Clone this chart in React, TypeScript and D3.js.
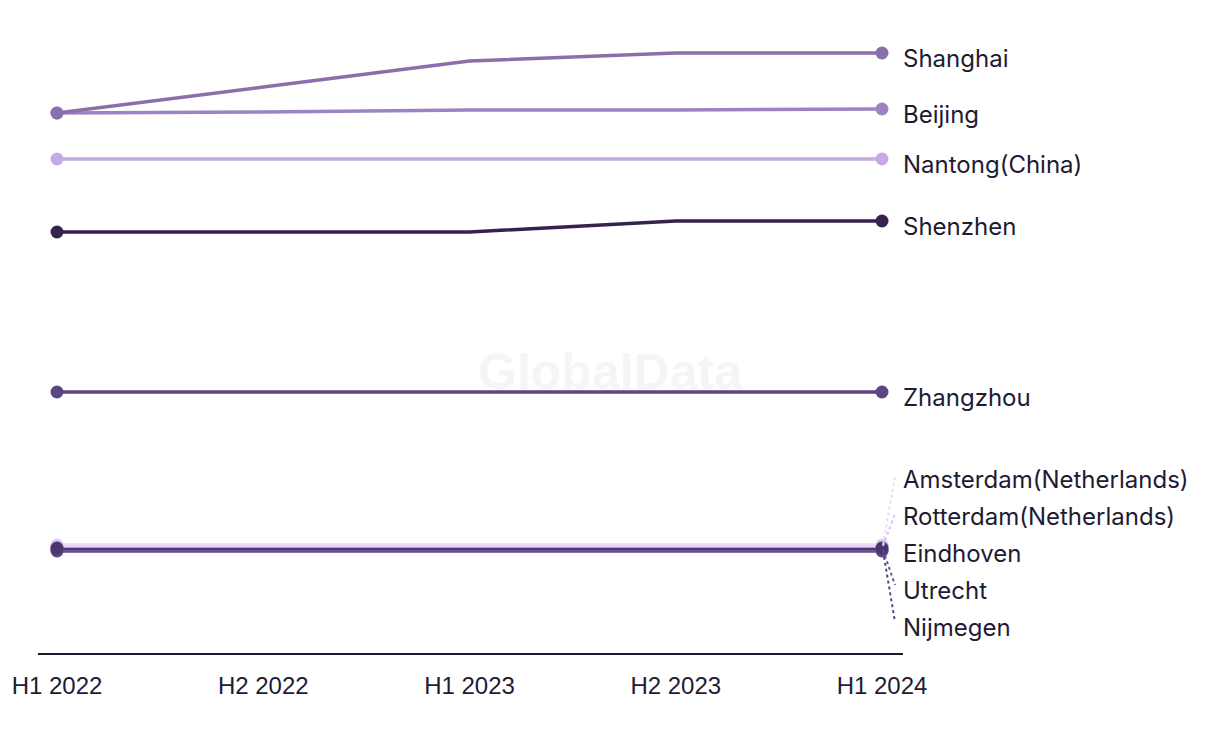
import React, { useEffect, useRef } from 'react';
import * as d3 from 'd3';

// periods on the x axis
const periods = ['H1 2022', 'H2 2022', 'H1 2023', 'H2 2023', 'H1 2024'];

// series values (arbitrary units)
const shanghai = [541, 567, 593, 601, 601];
const beijing = [541, 542, 544, 544, 545];
const nantong = [495, 495, 495, 495, 495];
const shenzhen = [422, 422, 422, 433, 433];
const zhangzhou = [262, 262, 262, 262, 262];
const amsterdam = [109, 109, 109, 109, 109];
const rotterdam = [108, 108, 108, 108, 108];
const eindhoven = [106, 106, 106, 106, 106];
const utrecht = [104, 104, 104, 104, 104];
const nijmegen = [103, 103, 103, 103, 103];

const cities = [
  'Shanghai', 'Beijing', 'Nantong(China)', 'Shenzhen', 'Zhangzhou',
  'Amsterdam(Netherlands)', 'Rotterdam(Netherlands)', 'Eindhoven', 'Utrecht', 'Nijmegen',
];
const seriesValues = [
  shanghai, beijing, nantong, shenzhen, zhangzhou,
  amsterdam, rotterdam, eindhoven, utrecht, nijmegen,
];
const colors = [
  '#8a6fab', '#9c83c2', '#c5aae8', '#35224f', '#5b4582',
  '#e9dafb', '#d9c3f4', '#4a356f', '#6c5594', '#5b4582',
];

export default function App() {
  const ref = useRef<SVGSVGElement>(null);

  useEffect(() => {
    const width = 1220;
    const height = 744;
    const svg = d3.select(ref.current);
    svg.selectAll('*').remove();

    const x = d3.scalePoint().domain(periods).range([57, 882]);
    const y = d3.scaleLinear().domain([0, 610]).range([654, 44]);

    // watermark
    svg.append('text')
      .attr('x', 610)
      .attr('y', 389)
      .attr('text-anchor', 'middle')
      .attr('font-family', 'Liberation Sans, Arial, sans-serif')
      .attr('font-weight', 'bold')
      .attr('font-size', 50)
      .attr('fill', '#f5f5f5')
      .text('GlobalData');

    // axis line
    svg.append('line')
      .attr('x1', 38).attr('x2', 903)
      .attr('y1', 654).attr('y2', 654)
      .attr('stroke', '#1c1a2e')
      .attr('stroke-width', 2);

    // tick labels
    svg.append('g')
      .selectAll('text')
      .data(periods)
      .enter()
      .append('text')
      .attr('x', d => x(d)!)
      .attr('y', 694)
      .attr('text-anchor', 'middle')
      .attr('font-family', 'Liberation Sans, Arial, sans-serif')
      .attr('font-size', 24)
      .attr('fill', '#1e1b33')
      .text(d => d);

    const series = cities.map((name, i) => ({
      name,
      color: colors[i],
      values: seriesValues[i],
    }));

    const line = d3.line<number>()
      .x((_, i) => x(periods[i])!)
      .y(d => y(d));

    // bottom cluster first, light ones after so they show as a thin stripe
    const order = [9, 8, 7, 6, 5, 4, 3, 2, 1, 0];
    const gLines = svg.append('g');
    order.forEach(i => {
      const s = series[i];
      gLines.append('path')
        .attr('d', line(s.values))
        .attr('fill', 'none')
        .attr('stroke', s.color)
        .attr('stroke-width', 3.5);
    });
    // dots: light ones underneath, dark ones on top
    const dotOrder = [5, 6, 8, 9, 7, 4, 3, 2, 1, 0];
    dotOrder.forEach(i => {
      const s = series[i];
      const first = s.values[0];
      const last = s.values[s.values.length - 1];
      [[periods[0], first], [periods[periods.length - 1], last]].forEach(([p, v]) => {
        gLines.append('circle')
          .attr('cx', x(p as string)!)
          .attr('cy', y(v as number))
          .attr('r', 6.5)
          .attr('fill', s.color);
      });
    });

    // end labels with simple collision resolution
    const gap = 37;
    const labels = series.map(s => {
      const py = y(s.values[s.values.length - 1]);
      return { ...s, py, ly: py + 6 };
    });
    const sorted = [...labels].sort((a, b) => a.ly - b.ly);
    // group overlapping labels and spread them around their mean
    let groups: typeof sorted[] = [];
    sorted.forEach(l => {
      const g = groups[groups.length - 1];
      if (g && l.ly - g[g.length - 1].ly < gap) g.push(l);
      else groups.push([l]);
    });
    groups.forEach(g => {
      const mean = d3.mean(g, d => d.ly)!;
      g.forEach((l, k) => {
        l.ly = mean + (k - (g.length - 1) / 2) * gap;
      });
    });

    const xEnd = x(periods[periods.length - 1])!;
    labels.forEach(l => {
      if (Math.abs(l.ly - l.py - 6) > 4) {
        svg.append('line')
          .attr('x1', xEnd + 1)
          .attr('y1', l.py)
          .attr('x2', xEnd + 13)
          .attr('y2', l.ly + (l.ly < l.py ? -3 : -6))
          .attr('stroke', l.color)
          .attr('stroke-width', 2)
          .attr('stroke-dasharray', '3,3');
      }
      svg.append('text')
        .attr('x', 903)
        .attr('y', l.ly + 8)
        .attr('font-family', 'Inter, sans-serif')
        .attr('font-size', 24)
        .attr('fill', '#1e1b33')
        .text(l.name);
    });

    svg.attr('width', width).attr('height', height);
  }, []);

  return (
    <svg ref={ref} width={1220} height={744}
      style={{ position: 'absolute', left: 0, top: 0, background: '#fff' }} />
  );
}
